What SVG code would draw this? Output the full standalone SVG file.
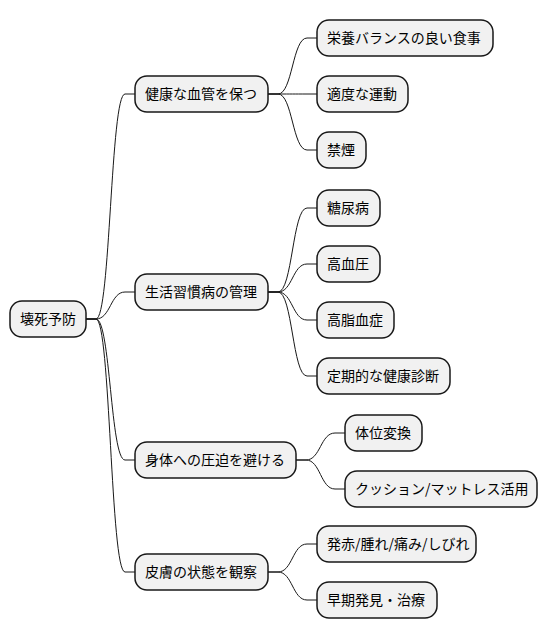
<svg xmlns="http://www.w3.org/2000/svg" width="549" height="640" viewBox="0 0 549 640">
<style>
.n rect{fill:#F1F1F1;stroke:#181818;stroke-width:1.5}
.n text{font-family:"Noto Sans CJK JP","Noto Sans",sans-serif;font-size:14px;fill:#000}
.c path{fill:none;stroke:#181818;stroke-width:1}
</style>
<rect width="549" height="640" fill="#FFFFFF"/>
<g class="c" id="connectors">
<path d="M86,319 L96,319 C110.5,319 110.5,94 125,94 L135,94"/>
<path d="M86,319 L96,319 C110.5,319 110.5,292 125,292 L135,292"/>
<path d="M86,319 L96,319 C110.5,319 110.5,460 125,460 L135,460"/>
<path d="M86,319 L96,319 C110.5,319 110.5,572 125,572 L135,572"/>
<path d="M268,94 L278,94 C292.5,94 292.5,38 307,38 L317,38"/>
<path d="M268,94 L278,94 C292.5,94 292.5,94 307,94 L317,94"/>
<path d="M268,94 L278,94 C292.5,94 292.5,150 307,150 L317,150"/>
<path d="M268,292 L278,292 C292.5,292 292.5,208 307,208 L317,208"/>
<path d="M268,292 L278,292 C292.5,292 292.5,264 307,264 L317,264"/>
<path d="M268,292 L278,292 C292.5,292 292.5,320 307,320 L317,320"/>
<path d="M268,292 L278,292 C292.5,292 292.5,376 307,376 L317,376"/>
<path d="M296,460 L306,460 C320.5,460 320.5,433 335,433 L345,433"/>
<path d="M296,460 L306,460 C320.5,460 320.5,489 335,489 L345,489"/>
<path d="M268,572 L278,572 C292.5,572 292.5,544 307,544 L317,544"/>
<path d="M268,572 L278,572 C292.5,572 292.5,600 307,600 L317,600"/>
</g>
<g class="n" id="root"><rect x="10" y="301" width="76" height="36" rx="12"/><text x="20" y="324">壊死予防</text></g>
<g class="n" id="n1"><rect x="135" y="76" width="133" height="36" rx="12"/><text x="145" y="99">健康な血管を保つ</text></g>
<g class="n" id="n1a"><rect x="317" y="20" width="176" height="36" rx="12"/><text x="327" y="43">栄養バランスの良い食事</text></g>
<g class="n" id="n1b"><rect x="317" y="76" width="91" height="36" rx="12"/><text x="327" y="99">適度な運動</text></g>
<g class="n" id="n1c"><rect x="317" y="132" width="49" height="36" rx="12"/><text x="327" y="155">禁煙</text></g>
<g class="n" id="n2"><rect x="135" y="274" width="133" height="36" rx="12"/><text x="145" y="297">生活習慣病の管理</text></g>
<g class="n" id="n2a"><rect x="317" y="190" width="63" height="36" rx="12"/><text x="327" y="213">糖尿病</text></g>
<g class="n" id="n2b"><rect x="317" y="246" width="63" height="36" rx="12"/><text x="327" y="269">高血圧</text></g>
<g class="n" id="n2c"><rect x="317" y="302" width="77" height="36" rx="12"/><text x="327" y="325">高脂血症</text></g>
<g class="n" id="n2d"><rect x="317" y="358" width="133" height="36" rx="12"/><text x="327" y="381">定期的な健康診断</text></g>
<g class="n" id="n3"><rect x="135" y="442" width="161" height="36" rx="12"/><text x="145" y="465">身体への圧迫を避ける</text></g>
<g class="n" id="n3a"><rect x="345" y="415" width="77" height="36" rx="12"/><text x="355" y="438">体位変換</text></g>
<g class="n" id="n3b"><rect x="345" y="471" width="192" height="36" rx="12"/><text x="355" y="494">クッション/マットレス活用</text></g>
<g class="n" id="n4"><rect x="135" y="554" width="133" height="36" rx="12"/><text x="145" y="577">皮膚の状態を観察</text></g>
<g class="n" id="n4a"><rect x="317" y="526" width="159" height="36" rx="12"/><text x="327" y="549">発赤/腫れ/痛み/しびれ</text></g>
<g class="n" id="n4b"><rect x="317" y="582" width="120" height="36" rx="12"/><text x="327" y="605">早期発見・治療</text></g>
</svg>
